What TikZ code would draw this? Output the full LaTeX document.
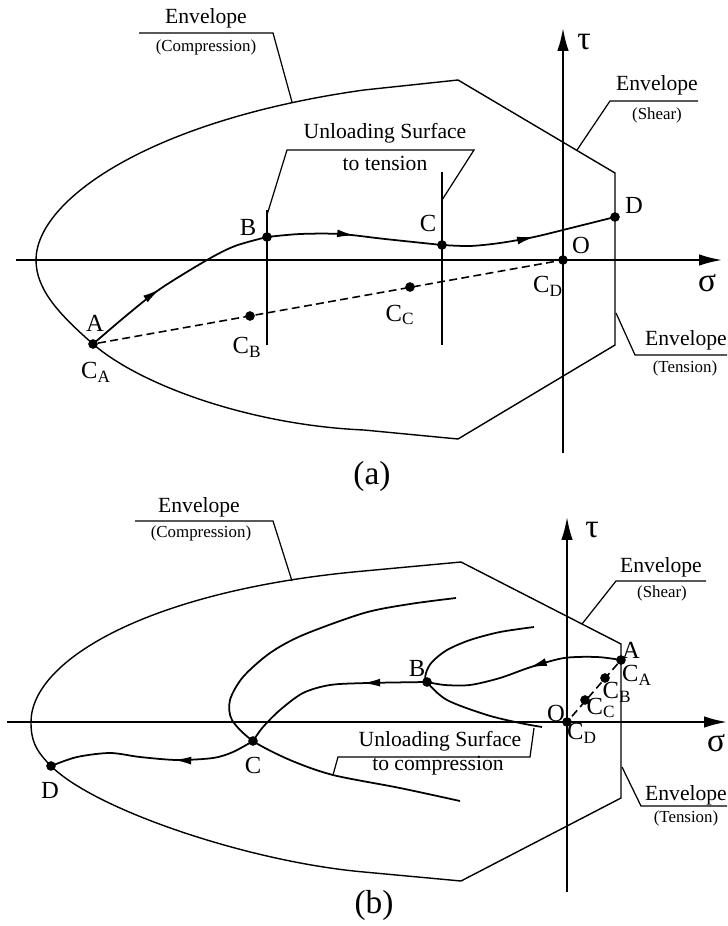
\documentclass[tikz,border=0pt]{standalone}
\usepackage{fontspec}
\setmainfont{Liberation Serif}
\usetikzlibrary{arrows.meta,decorations.markings}
\tikzset{
  eje/.style={line width=1.1pt, -{Latex[length=13pt,width=6.5pt]}},
  envol/.style={line width=0.8pt},
  guia/.style={line width=0.7pt},
  tray/.style={line width=1pt},
  trazos/.style={line width=0.9pt, dash pattern=on 4.5pt off 2.5pt},
  flechita/.style={postaction={decorate}, decoration={markings,
    mark=at position #1 with {\arrow{Latex[length=10pt,width=4.5pt]}}}},
  punto/.style={circle, fill, inner sep=0pt, minimum size=5.5pt},
  etq/.style={font=\fontsize{14}{16}\selectfont, inner sep=1pt},
  etqs/.style={font=\fontsize{12.3}{14}\selectfont, inner sep=1pt},
  etqp/.style={font=\fontsize{9.6}{11}\selectfont, inner sep=1pt},
  griega/.style={font=\fontsize{19}{21}\selectfont, inner sep=1pt},
}

\begin{document}
\begin{tikzpicture}[x=0.02cm, y=-0.02cm]
  \useasboundingbox (0,0) rectangle (727,926);
  % ---------- (a) ----------
  \node[punto] (aA) at (93,344) {};
  \node[punto] (aB) at (267,237) {};
  \node[punto] (aC) at (442,245) {};
  \node[punto] (aD) at (615,217) {};
  \node[punto] (aO) at (563,260) {};
  \node[punto] (aCB) at (250,316) {};
  \node[punto] (aCC) at (410,287) {};

  \draw[envol] (458,439) -- (364,430) .. controls (250,425) and (140,385) .. (aA.center)
    .. controls (60,315) and (36,290) .. (36,260)
    .. controls (36,200) and (150,120) .. (364,90) -- (458,80) -- (615,173) -- (615,345) -- cycle;
  \draw[eje] (16,260) -- (722,260);
  \draw[eje] (563,453) -- (563,28);
  \node[griega] (tauA) at (584,42) {τ};
  \node[griega] (sigA) at (707,283) {σ};
  \draw[tray] (267,210) -- (267,345);
  \draw[tray] (442,172) -- (442,345);

  \draw[tray, flechita=0.42] plot[smooth] coordinates {(aA) (127,315) (160,289) (207,260) (235,246) (aB)};
  \draw[tray, flechita=0.5] plot[smooth] coordinates {(aB) (300,234) (340,234) (385,239) (aC)};
  \draw[tray, flechita=0.53] plot[smooth] coordinates {(aC) (470,246) (500,243) (534,237) (567,229) (aD)};
  \draw[trazos] (aA) -- (aO);

  \node[etq] (laA) at (95,323) {A};
  \node[etq] (laCA) at (96,372) {C\textsubscript{A}};
  \node[etq] (laB) at (248,227) {B};
  \node[etq] (laCB) at (247,347) {C\textsubscript{B}};
  \node[etq] (laC) at (428,223) {C};
  \node[etq] (laCC) at (400,315) {C\textsubscript{C}};
  \node[etq] (laD) at (634,205) {D};
  \node[etq] (laO) at (581,245) {O};
  \node[etq] (laCD) at (548,286) {C\textsubscript{D}};

  % leaders (a)
  \draw[guia] (139,33) -- (273,33) -- (292,102);
  \node[etqs] (envCa) at (206,18) {Envelope};
  \node[etqp] (compA) at (206,47) {(Compression)};
  \draw[guia] (698,101) -- (610,101) -- (577,150);
  \node[etqs] (envSa) at (657,85) {Envelope};
  \node[etqp] (shearA) at (657,115) {(Shear)};
  \draw[guia] (616,313) -- (635,355) -- (727,355);
  \node[etqs] (envTa) at (686,340) {Envelope};
  \node[etqp] (tensA) at (685,368) {(Tension)};
  \draw[guia] (267,215) -- (287,150) -- (474,150) -- (442,200);
  \node[etqs] (unlA) at (385,133) {Unloading Surface};
  \node[etqs] (toA) at (385,163) {to tension};
  \node[griega] (capA) at (372,476) {(a)};

  % ---------- (b) ----------
  \node[punto] (bA) at (621,660) {};
  \node[punto] (bB) at (427,682) {};
  \node[punto] (bC) at (253,741) {};
  \node[punto] (bD) at (51,766) {};
  \node[punto] (bO) at (567,722) {};
  \node[punto] (bCB) at (605,678) {};
  \node[punto] (bCC) at (585,700) {};

  \draw[envol] (461,881) -- (364,872) .. controls (250,862) and (95,810) .. (bD.center)
    .. controls (35,750) and (31,740) .. (31,722)
    .. controls (31,660) and (150,590) .. (364,571) -- (461,562) -- (621,644) -- (621,798) -- cycle;
  \draw[eje] (7,722) -- (727,722);
  \draw[eje] (567,892) -- (567,517);
  \node[griega] (tauB) at (592,530) {τ};
  \node[griega] (sigB) at (716,743) {σ};

  % unloading surfaces
  \draw[tray] plot[smooth] coordinates {(534,627) (500,632) (470,640) (447,650) (432,662)
    (426,673) (427,682) (447,700) (487,715) (520,723) (542,727)};
  \draw[tray] plot[smooth] coordinates {(456,598) (410,604) (364,613) (303,635) (270,653)
    (243,677) (230,700) (232,720) (253,741) (290,760) (333,775) (400,788) (460,801)};

  \draw[tray, flechita=0.47] plot[smooth] coordinates {(bA) (597,657) (564,658) (531,667) (500,678) (470,685) (445,685) (bB)};
  \draw[tray, flechita=0.33] plot[smooth] coordinates {(bB) (367,683) (330,685) (303,693) (280,710) (263,727) (bC)};
  \draw[tray, flechita=0.4] plot[smooth] coordinates {(bC) (233,752) (213,758) (177,760) (140,757) (110,753) (77,757) (bD)};
  \draw[trazos] (bA) -- (bO);

  \node[etq] (lbA) at (631,650) {A};
  \node[etq] (lbCA) at (637,675) {C\textsubscript{A}};
  \node[etq] (lbCB) at (617,692) {C\textsubscript{B}};
  \node[etq] (lbCC) at (601,708) {C\textsubscript{C}};
  \node[etq] (lbO) at (556,713) {O};
  \node[etq] (lbCD) at (582,733) {C\textsubscript{D}};
  \node[etq] (lbB) at (417,668) {B};
  \node[etq] (lbC) at (253,765) {C};
  \node[etq] (lbD) at (50,790) {D};

  % leaders (b)
  \draw[guia] (135,521) -- (273,521) -- (292,581);
  \node[etqs] (envCb) at (199,507) {Envelope};
  \node[etqp] (compB) at (201,533) {(Compression)};
  \draw[guia] (706,581) -- (616,581) -- (582,624);
  \node[etqs] (envSb) at (661,567) {Envelope};
  \node[etqp] (shearB) at (662,593) {(Shear)};
  \draw[guia] (622,767) -- (641,806) -- (727,806);
  \node[etqs] (envTb) at (686,795) {Envelope};
  \node[etqp] (tensB) at (686,818) {(Tension)};
  \draw[guia] (333,775) -- (338,757) -- (530,757) -- (534,728);
  \node[etqs] (unlB) at (440,741) {Unloading Surface};
  \node[etqs] (toB) at (438,766) {to compression};
  \node[griega] (capB) at (374,905) {(b)};
\end{tikzpicture}
\end{document}
